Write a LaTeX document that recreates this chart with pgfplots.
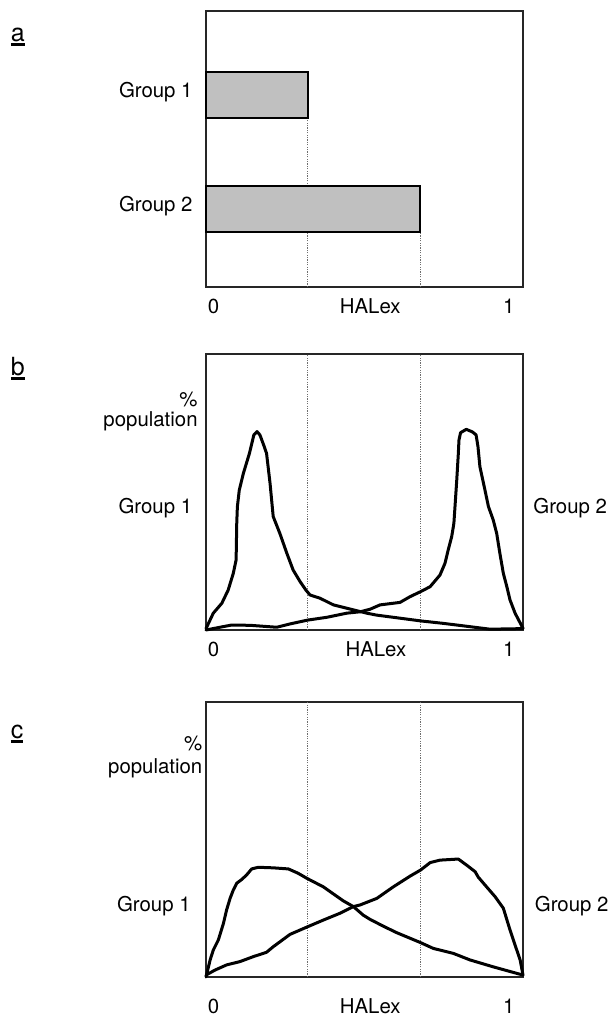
\documentclass[border=0pt]{standalone}
\usepackage{fontspec}
\setmainfont{TeX Gyre Heros}
\usepackage{pgfplots}
\pgfplotsset{compat=1.18}
\definecolor{barfill}{RGB}{192,192,192}
\definecolor{dotgray}{RGB}{110,110,110}
\newcommand{\ul}[1]{\setbox0\hbox{#1}\rlap{\rule[-2.4bp]{\wd0}{1.5bp}}\box0}
\pgfplotsset{
  panel/.style={scale only axis, width=158.5bp, anchor=south west,
    xmin=0, xmax=1, ymin=0, ymax=1,
    axis line style={line width=0.7bp, black!85},
    major tick length=0pt, clip=false, ytick=\empty,
    tick label style={font=\fontsize{10.2bp}{12bp}\selectfont, inner sep=0pt},
    xticklabel style={anchor=base},
    xticklabels={0,HALex,1}},
  curve/.style={black, line width=1.5bp, line join=round, line cap=round, no markers},
  guide/.style={dotgray, line width=0.5bp, dash pattern=on 0.6bp off 0.6bp, no markers},
}
\begin{document}
\begin{tikzpicture}[font=\fontsize{10.2bp}{12bp}\selectfont]
\path[use as bounding box] (0,0) rectangle (306.5bp,-507.5bp);
% ---------- panel a ----------
\begin{axis}[panel, height=138bp, at={(103bp,-143.5bp)},
  xtick={0.024,0.518,0.955}, xticklabel style={yshift=-13.2bp},
  ytick={0.283,0.696}, yticklabels={Group 2,Group 1},
  yticklabel style={anchor=base east, xshift=-6.5bp, yshift=-1.2bp}]
\addplot[guide] coordinates {(0.321,0) (0.321,0.612)};
\addplot[guide] coordinates {(0.676,0) (0.676,0.199)};
\addplot[xbar, bar width=0.167, bar shift=0pt, fill=barfill, draw=black, line width=0.9bp]
  coordinates {(0.321,0.696) (0.676,0.283)};
\end{axis}
\node[anchor=base west, inner sep=0pt, font=\fontsize{12.5bp}{14bp}\selectfont] at (5.3bp,-20.75bp) {\ul{a}};
% ---------- panel b ----------
\begin{axis}[panel, height=138bp, at={(103bp,-315bp)},
  xtick={0.024,0.536,0.955}, xticklabel style={yshift=-13.3bp}]
\addplot[guide] coordinates {(0.321,0) (0.321,1)};
\addplot[guide] coordinates {(0.677,0) (0.677,1)};
\addplot[curve] coordinates {(0,0.005) (0.023,0.061) (0.050,0.097) (0.070,0.145) (0.086,0.205) (0.095,0.254) (0.097,0.387) (0.099,0.447) (0.105,0.507) (0.118,0.568) (0.137,0.640) (0.151,0.707) (0.161,0.719) (0.170,0.707) (0.182,0.670) (0.191,0.640) (0.202,0.532) (0.212,0.411) (0.233,0.350) (0.255,0.278) (0.275,0.217) (0.297,0.175) (0.315,0.145) (0.328,0.127) (0.360,0.115) (0.402,0.091) (0.444,0.079) (0.475,0.070) (0.507,0.061) (0.538,0.054) (0.591,0.046) (0.677,0.033) (0.749,0.024) (0.833,0.012) (0.896,0.003) (1,0.005)};
\addplot[curve] coordinates {(0,0) (0.044,0.010) (0.081,0.018) (0.139,0.017) (0.223,0.010) (0.265,0.022) (0.321,0.036) (0.381,0.046) (0.444,0.061) (0.486,0.066) (0.517,0.075) (0.549,0.091) (0.612,0.100) (0.644,0.121) (0.677,0.139) (0.707,0.157) (0.738,0.199) (0.754,0.242) (0.764,0.290) (0.775,0.338) (0.782,0.387) (0.791,0.543) (0.796,0.640) (0.798,0.688) (0.803,0.715) (0.821,0.727) (0.840,0.718) (0.852,0.707) (0.858,0.664) (0.864,0.592) (0.880,0.507) (0.891,0.447) (0.906,0.399) (0.917,0.350) (0.927,0.278) (0.938,0.205) (0.949,0.157) (0.959,0.109) (0.975,0.061) (1,0.006)};
\end{axis}
\node[anchor=base west, inner sep=0pt, font=\fontsize{12.5bp}{14bp}\selectfont] at (5.3bp,-187.5bp) {\ul{b}};
\node[anchor=base east, inner sep=0pt] at (99bp,-203.35bp) {\%};
\node[anchor=base east, inner sep=0pt] at (99bp,-213.35bp) {population};
\node[anchor=base east, inner sep=0pt] at (96.25bp,-256.65bp) {Group 1};
\node[anchor=base west, inner sep=0pt] at (266.5bp,-256.65bp) {Group 2};
% ---------- panel c ----------
\begin{axis}[panel, height=137.5bp, at={(103bp,-488.5bp)},
  xtick={0.024,0.518,0.955}, xticklabel style={yshift=-18.3bp}]
\addplot[guide] coordinates {(0.321,0) (0.321,1)};
\addplot[guide] coordinates {(0.677,0) (0.677,1)};
\addplot[curve] coordinates {(0,0) (0.013,0.062) (0.023,0.098) (0.039,0.135) (0.055,0.195) (0.065,0.244) (0.076,0.286) (0.086,0.316) (0.097,0.341) (0.113,0.355) (0.128,0.371) (0.144,0.393) (0.165,0.399) (0.212,0.397) (0.260,0.393) (0.291,0.377) (0.318,0.359) (0.338,0.347) (0.370,0.328) (0.402,0.302) (0.433,0.277) (0.465,0.256) (0.496,0.225) (0.517,0.210) (0.559,0.185) (0.602,0.161) (0.677,0.125) (0.717,0.104) (0.780,0.086) (0.833,0.062) (0.906,0.037) (1,0.007)};
\addplot[curve] coordinates {(0,0.007) (0.028,0.025) (0.065,0.044) (0.107,0.056) (0.149,0.074) (0.191,0.090) (0.212,0.110) (0.265,0.155) (0.321,0.183) (0.370,0.207) (0.423,0.232) (0.465,0.256) (0.486,0.262) (0.539,0.286) (0.591,0.328) (0.644,0.367) (0.677,0.389) (0.707,0.416) (0.738,0.425) (0.796,0.429) (0.822,0.407) (0.849,0.383) (0.859,0.363) (0.885,0.328) (0.912,0.292) (0.938,0.250) (0.959,0.171) (0.975,0.116) (0.991,0.062) (1,0.007)};
\end{axis}
\node[anchor=base west, inner sep=0pt, font=\fontsize{12.5bp}{14bp}\selectfont] at (5.3bp,-369bp) {\ul{c}};
\node[anchor=base east, inner sep=0pt] at (101.35bp,-375bp) {\%};
\node[anchor=base east, inner sep=0pt] at (101.35bp,-386.5bp) {population};
\node[anchor=base east, inner sep=0pt] at (95.5bp,-455.85bp) {Group 1};
\node[anchor=base west, inner sep=0pt] at (267.25bp,-455.85bp) {Group 2};
\end{tikzpicture}
\end{document}
